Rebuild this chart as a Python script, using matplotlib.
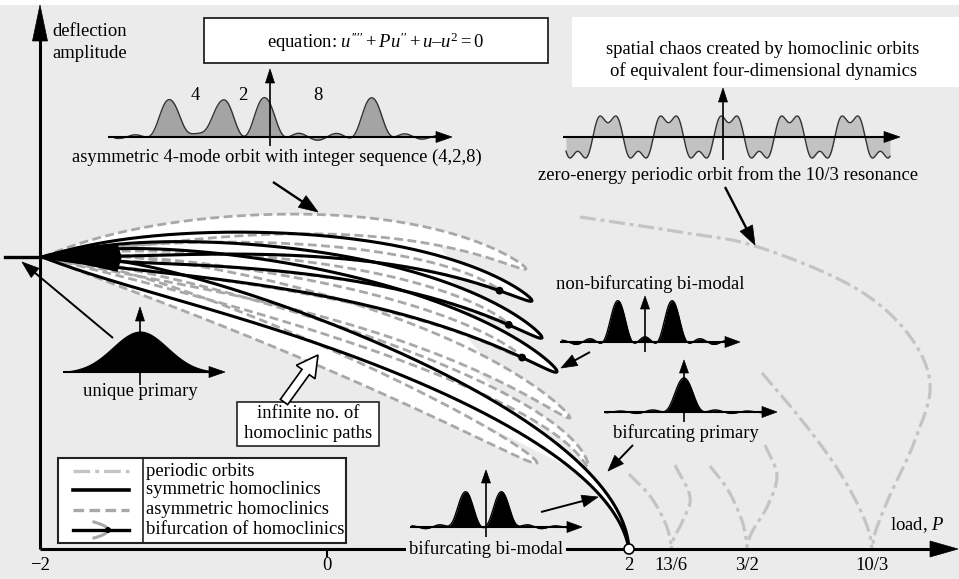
import numpy as np
import matplotlib.pyplot as plt
from matplotlib.patches import Rectangle, Polygon, Circle

plt.rcParams['font.family'] = ['Liberation Serif', 'DejaVu Serif']
plt.rcParams['mathtext.fontset'] = 'custom'
plt.rcParams['mathtext.rm'] = 'Liberation Serif'
plt.rcParams['mathtext.it'] = 'Liberation Serif:italic'

BG = '#ebebeb'
DASH = '#a8a8a8'
DASHDOT = '#c4c4c4'
FS = 13.4

# load axis (schematic, not to scale)
tick_labels = ['\u22122', '0', '2', '13/6', '3/2', '10/3']
tick_x = [40, 327, 629, 671, 747, 872]

# homoclinic fan: tips of the folds and their control points (top to bottom)
APEX = (42, 257)
loop_style = ['dash', 'black', 'black', 'black', 'dash', 'black', 'dash', 'dash']
loop_tip = [(526, 269), (532, 301), (542, 338), (557, 372), (570, 418), (629, 549), (537, 463), (588, 467)]
loop_c1 = [(180, 221), (180, 237), (180, 245), (180, 254), (180, 265), (180, 275), (180, 287), (180, 277)]
loop_c2 = [(400, 201), (410, 229), (420, 253), (430, 281), (440, 315), (612, 405), (440, 404), (560, 384)]
loop_w = [10, 11, 12, 13, 11, 13, 10, 6]

# periodic orbit branches (dash-dot)
per_10_3_outer = [(580, 217), (680, 232), (755, 246), (850, 285), (905, 330), (930, 383), (915, 440), (890, 495), (876, 530), (872, 549)]
per_10_3_inner = [(762, 373), (800, 418), (835, 465), (858, 505), (869, 532), (872, 549)]
per_3_2_left = [(710, 466), (728, 490), (741, 518), (746, 538), (747, 549)]
per_3_2_right = [(765, 445), (777, 475), (768, 505), (753, 530), (748, 542), (747, 549)]
per_13_6_left = [(629, 474), (650, 496), (664, 520), (670, 538), (671, 549)]
per_13_6_right = [(675, 465), (690, 497), (683, 520), (674, 538), (671, 549)]

# inset profiles
four_mode_centres = [170, 222, 265, 372]
four_mode_labels = ['4', '2', '8']
four_mode_label_x = [195, 243, 318]
nonbif_centres = [618, 672]
bifprim_centres = [684]
bibimodal_centres = [465, 502]


def bezier(pts, n=400):
    p = np.array(pts, float)
    s = np.linspace(0, 1, n)[:, None]
    return ((1 - s) ** 3 * p[0] + 3 * (1 - s) ** 2 * s * p[1]
            + 3 * (1 - s) * s ** 2 * p[2] + s ** 3 * p[3]), s[:, 0]


def spline(pts, n=30):
    p = np.array(pts, float)
    p = np.vstack([2 * p[0] - p[1], p, 2 * p[-1] - p[-2]])
    out = []
    for i in range(1, len(p) - 2):
        t = np.linspace(0, 1, n)[:, None]
        a, b, c, d = p[i - 1], p[i], p[i + 1], p[i + 2]
        out.append(0.5 * (2 * b + (-a + c) * t + (2 * a - 5 * b + 4 * c - d) * t ** 2
                          + (-a + 3 * b - 3 * c + d) * t ** 3))
    return np.vstack(out)


def loop(c1, c2, tip, w, pointed=False):
    c, s = bezier([APEX, c1, c2, tip])
    d = np.gradient(c, axis=0)
    d /= np.linalg.norm(d, axis=1)[:, None]
    nrm = np.stack([d[:, 1], -d[:, 0]], 1)
    if pointed:
        prof = np.tanh(s / 0.2) * (1 - s) ** 0.9
    else:
        prof = np.tanh(s / 0.2) * np.sqrt(np.clip(1 - s ** 3, 0, None))
    prof = prof / prof.max() * w
    return c + prof[:, None] * nrm, c - prof[:, None] * nrm


def arrow(ax, x0, y0, x1, y1, lw=1.1, hl=13, hw=4.5, color='black', z=6):
    u = np.array([x1 - x0, y1 - y0], float)
    u /= np.linalg.norm(u)
    n = np.array([-u[1], u[0]])
    tip = np.array([x1, y1], float)
    base = tip - hl * u
    ax.plot([x0, base[0] + 0.3 * hl * u[0]], [y0, base[1] + 0.3 * hl * u[1]],
            color=color, lw=lw, zorder=z, solid_capstyle='butt')
    ax.add_patch(Polygon([tip, base + hw * n, base - hw * n], closed=True,
                         fc=color, ec=color, lw=0.5, zorder=z))


def pulse(x, c, w, P, a):
    d = x - c
    g = np.exp(-(d / w) ** 2)
    return g + a * np.cos(2 * np.pi * d / P) * np.exp(-np.abs(d) / 45) * (1 - g)


fig = plt.figure(figsize=(9.59, 5.79), dpi=100)
fig.patch.set_facecolor(BG)
ax = fig.add_axes([0, 0, 1, 1])
ax.set_xlim(0, 959)
ax.set_ylim(579, 0)
ax.axis('off')
ax.set_facecolor(BG)
ax.add_patch(Rectangle((0, 0), 959, 5, fc='white', ec='none', zorder=0))

# main axes
arrow(ax, 40, 549, 40, 5, lw=2.2, hl=36, hw=7.5)
arrow(ax, 40, 549, 958, 549, lw=2.2, hl=28, hw=8)
ax.plot([327, 327], [549, 556], color='black', lw=1.5)
for lab, x in zip(tick_labels, tick_x):
    ax.text(x, 565, lab, ha='center', va='center', fontsize=FS)
ax.text(52, 32, 'deflection', ha='left', va='center', fontsize=FS)
ax.text(52, 54, 'amplitude', ha='left', va='center', fontsize=FS)
ax.text(917, 525, 'load, $P$', ha='center', va='center', fontsize=FS)

# trivial branch and fan apex
ax.plot([5, 60], [257, 257], color='black', lw=2.4, zorder=5)
ax.add_patch(Polygon([(42, 257), (80, 251), (117, 244), (121, 257), (117, 271), (80, 263)],
                     closed=True, fc='black', ec='black', zorder=5))

# homoclinic fan
loops = []
for st, tip, c1, c2, w in zip(loop_style, loop_tip, loop_c1, loop_c2, loop_w):
    up, lo = loop(c1, c2, tip, w, pointed=(tip == (629, 549)))
    loops.append((st, up, lo))
for st, up, lo in loops:
    ax.fill(np.r_[up[:, 0], lo[::-1, 0]], np.r_[up[:, 1], lo[::-1, 1]], color='white', lw=0, zorder=2)
# white band between neighbouring folds, away from the tips
for (_, _, lo_a), (_, up_b, _) in zip(loops[:6], loops[1:7]):
    k = int(0.8 * len(lo_a))
    poly = np.r_[lo_a[:k], up_b[:k][::-1]]
    ax.fill(poly[:, 0], poly[:, 1], color='white', lw=0, zorder=2)
# asymmetric branches bifurcating from the symmetric folds
inner = []
for st, tip, c1, c2, w in zip(loop_style, loop_tip, loop_c1, loop_c2, loop_w):
    if st == 'black' and tip != (629, 549):
        up, lo = loop(c1, c2, tip, w)
        dot = lo[int(0.92 * len(lo))]
        iu, il = loop((c1[0], c1[1] + 0.6 * w), (c2[0] - 10, c2[1] + 0.9 * w), tuple(dot), 0.55 * w)
        inner.append((iu, il, dot))
for st, up, lo in loops:
    path = np.r_[up, lo[::-1]]
    if st == 'black':
        ax.plot(path[:, 0], path[:, 1], color='black', lw=2.2, zorder=4)
    else:
        ax.plot(path[:, 0], path[:, 1], color=DASH, lw=2.0, dashes=(3.2, 1.6), zorder=3)
for iu, il, dot in inner:
    path = np.r_[iu, il[::-1]]
    ax.plot(path[:, 0], path[:, 1], color=DASH, lw=2.0, dashes=(3.2, 1.6), zorder=3)
    ax.add_patch(Circle(dot, 3.2, fc='black', ec='black', zorder=6))

# periodic orbits
for br in [per_10_3_outer, per_10_3_inner, per_3_2_left, per_3_2_right, per_13_6_left, per_13_6_right]:
    xy = spline(br)
    ax.plot(xy[:, 0], xy[:, 1], color=DASHDOT, lw=2.3, dashes=(5, 1.5, 1.2, 1.5), zorder=3)
ax.add_patch(Circle((629, 549), 5, fc='white', ec='black', lw=1.2, zorder=8))

# boxes
ax.add_patch(Rectangle((204, 18), 344, 45, fc='white', ec='#222222', lw=1.3, zorder=5))
ax.text(376, 42, "equation: $u''''+Pu''+u\u2013u^{2}=0$", ha='center', va='center',
        fontsize=FS, zorder=6)
ax.add_patch(Rectangle((572, 17), 390, 70, fc='white', ec='none', zorder=5))
ax.text(763, 49, 'spatial chaos created by homoclinic orbits', ha='center', va='center', fontsize=FS, zorder=6)
ax.text(763, 71, 'of equivalent four-dimensional dynamics', ha='center', va='center', fontsize=FS, zorder=6)

# 4-mode asymmetric orbit
x = np.linspace(115, 440, 800)
u = sum(pulse(x, c, 13, 34, 0.16) for c in four_mode_centres)
y = 137 - 39 * u
ax.fill_between(x, 137, y, color='#a4a4a4', lw=0, zorder=3)
ax.plot(x, y, color='#333333', lw=1.0, zorder=4)
arrow(ax, 108, 137, 452, 137, lw=1.5, hl=16, hw=5.5)
arrow(ax, 270, 146, 270, 69, lw=1.2, hl=14, hw=4.5)
for lab, lx in zip(four_mode_labels, four_mode_label_x):
    ax.text(lx, 95, lab, ha='center', va='center', fontsize=FS)
ax.text(277, 157, 'asymmetric 4-mode orbit with integer sequence (4,2,8)', ha='center', va='center', fontsize=FS)
arrow(ax, 273, 182, 318, 212, lw=1.7, hl=19, hw=7)

# periodic orbit from 10/3 resonance
x = np.linspace(566, 890, 800)
th = 2 * np.pi * (x - 608) / 60.5
y = 137 - 22 * (np.cos(th) - 0.35 * np.cos(3 * th))
ax.fill_between(x, 137, y, color='#c2c2c2', lw=0, zorder=3)
ax.plot(x, y, color='#333333', lw=1.0, zorder=4)
arrow(ax, 563, 137, 900, 137, lw=1.5, hl=16, hw=5.5)
arrow(ax, 723, 160, 723, 88, lw=1.2, hl=14, hw=4.5)
ax.text(728, 175, 'zero-energy periodic orbit from the 10/3 resonance', ha='center', va='center', fontsize=FS)
arrow(ax, 725, 187, 755, 245, lw=1.7, hl=19, hw=7)

# unique primary
x = np.linspace(63, 215, 400)
y = 372 - 41 * np.exp(-((x - 140) / 39) ** 2)
ax.fill_between(x, 372, y, color='black', lw=0, zorder=3)
arrow(ax, 63, 372, 225, 372, lw=1.5, hl=16, hw=5.5)
arrow(ax, 140, 385, 140, 307, lw=1.2, hl=14, hw=4.5)
ax.text(140, 392, 'unique primary', ha='center', va='center', fontsize=FS)
arrow(ax, 113, 338, 22, 262, lw=1.4, hl=17, hw=6)

# non-bifurcating bi-modal
x = np.linspace(562, 728, 500)
y = 342 - 40 * sum(pulse(x, c, 10, 28, 0.12) for c in nonbif_centres)
ax.fill_between(x, 342, y, color='black', lw=0, zorder=3)
ax.plot(x, y, color='black', lw=1.0, zorder=3)
arrow(ax, 560, 342, 740, 342, lw=1.5, hl=15, hw=5.5)
arrow(ax, 645, 352, 645, 296, lw=1.2, hl=13, hw=4.5)
ax.text(650, 284, 'non-bifurcating bi-modal', ha='center', va='center', fontsize=FS)
arrow(ax, 590, 352, 561, 368, lw=1.4, hl=16, hw=6)

# bifurcating primary
x = np.linspace(606, 764, 500)
y = 412 - 34 * sum(pulse(x, c, 12, 32, 0.12) for c in bifprim_centres)
ax.fill_between(x, 412, y, color='black', lw=0, zorder=3)
ax.plot(x, y, color='black', lw=1.0, zorder=3)
arrow(ax, 604, 412, 777, 412, lw=1.5, hl=15, hw=5.5)
arrow(ax, 684, 422, 684, 360, lw=1.2, hl=13, hw=4.5)
ax.text(686, 433, 'bifurcating primary', ha='center', va='center', fontsize=FS)
arrow(ax, 633, 445, 608, 471, lw=1.4, hl=16, hw=6)

# bifurcating bi-modal
x = np.linspace(412, 568, 500)
y = 527 - 36 * sum(pulse(x, c, 10, 28, 0.12) for c in bibimodal_centres)
ax.fill_between(x, 527, y, color='black', lw=0, zorder=3)
ax.plot(x, y, color='black', lw=1.0, zorder=3)
arrow(ax, 410, 527, 582, 527, lw=1.5, hl=15, hw=5.5)
arrow(ax, 486, 537, 486, 470, lw=1.2, hl=13, hw=4.5)
ax.text(486, 549, 'bifurcating bi-modal', ha='center', va='center', fontsize=FS, zorder=7,
        bbox=dict(fc=BG, ec='none', pad=2))
arrow(ax, 541, 512, 598, 497, lw=1.4, hl=16, hw=6)

# infinite number of paths
ax.add_patch(Rectangle((237, 402), 142, 44, fc='white', ec='#222222', lw=1.2, zorder=5))
ax.text(308, 413, 'infinite no. of', ha='center', va='center', fontsize=FS, zorder=6)
ax.text(308, 433, 'homoclinic paths', ha='center', va='center', fontsize=FS, zorder=6)
ax.arrow(284, 402, 34, -47, width=9, head_width=23, head_length=21, length_includes_head=True,
         fc='white', ec='black', lw=1.2, zorder=6)

# legend
ax.add_patch(Rectangle((58, 458), 288, 85, fc='white', ec='#222222', lw=1.5, zorder=5))
ax.plot([143, 143], [458, 543], color='#222222', lw=1.2, zorder=6)
leg_labels = ['periodic orbits', 'symmetric homoclinics', 'asymmetric homoclinics', 'bifurcation of homoclinics']
leg_y = [471, 490, 510, 530]
for lab, ly in zip(leg_labels, leg_y):
    ax.text(146, ly, lab, ha='left', va='center', fontsize=FS, zorder=6)
ax.plot([73, 129], [471, 471], color=DASHDOT, lw=2.4, dashes=(5, 1.5, 1.2, 1.5), zorder=6)
ax.plot([73, 129], [490, 490], color='black', lw=2.6, zorder=6)
ax.plot([73, 129], [510, 510], color=DASH, lw=2.4, dashes=(3.2, 1.6), zorder=6)
t = np.linspace(-1, 1, 50)
ax.plot(108 - 14 * t ** 2, 530 + 8 * t, color=DASH, lw=2.2, zorder=6)
ax.plot([73, 129], [530, 530], color='black', lw=2.4, zorder=7)
ax.add_patch(Circle((108, 530), 3, fc='black', zorder=8))

fig.savefig('out.png', dpi=100, facecolor=BG)
